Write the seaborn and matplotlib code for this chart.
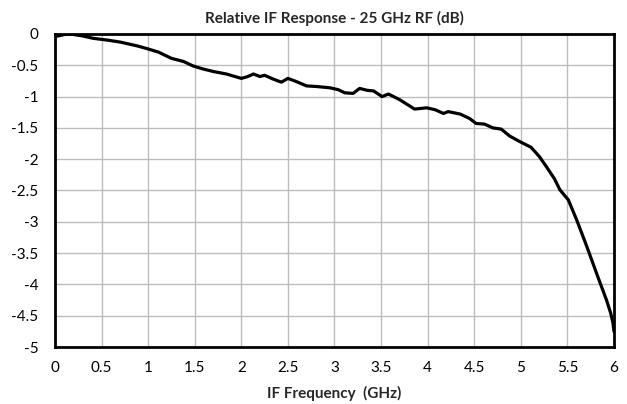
import pandas as pd
import matplotlib.pyplot as plt
import seaborn as sns

sns.set_style("whitegrid")
plt.rcParams['font.family'] = ['Lato', 'DejaVu Sans']

# IF response
freq_ghz = [0.0, 0.04, 0.1, 0.16, 0.29, 0.41, 0.57, 0.70, 0.88, 1.0, 1.11, 1.25,
            1.38, 1.48, 1.59, 1.70, 1.84, 2.0, 2.07, 2.13, 2.2, 2.25, 2.34, 2.43,
            2.50, 2.59, 2.70, 2.81, 2.95, 3.04, 3.11, 3.2, 3.27, 3.35, 3.42, 3.51,
            3.58, 3.70, 3.86, 3.99, 4.08, 4.17, 4.22, 4.35, 4.45, 4.52, 4.61, 4.70,
            4.79, 4.88, 4.99, 5.11, 5.2, 5.27, 5.36, 5.42, 5.51, 5.6, 5.71, 5.82,
            5.92, 5.965, 5.99, 6.0]
response_db = [-0.04, -0.03, -0.01, 0.0, -0.03, -0.07, -0.10, -0.13, -0.19, -0.24, -0.29, -0.39,
               -0.44, -0.51, -0.56, -0.60, -0.64, -0.71, -0.68, -0.64, -0.68, -0.66, -0.72, -0.77,
               -0.71, -0.76, -0.83, -0.84, -0.86, -0.89, -0.94, -0.95, -0.87, -0.90, -0.91, -1.0,
               -0.96, -1.05, -1.20, -1.18, -1.21, -1.27, -1.24, -1.28, -1.35, -1.43, -1.44, -1.50,
               -1.52, -1.63, -1.72, -1.81, -1.96, -2.11, -2.31, -2.49, -2.65, -2.97, -3.40, -3.85,
               -4.25, -4.46, -4.62, -4.75]

df = pd.DataFrame({'freq': freq_ghz, 'resp': response_db})

fig = plt.figure(figsize=(6.27, 4.04), dpi=100)
ax = fig.add_axes([0.0877, 0.141, 0.8915, 0.775])
sns.lineplot(data=df, x='freq', y='resp', color='black', linewidth=2.3, ax=ax)

ax.set_xlim(0, 6)
ax.set_ylim(-5, 0)
ax.set_xticks([i * 0.5 for i in range(13)])
ax.set_yticks([-i * 0.5 for i in range(11)])
ax.set_xticklabels(['0', '0.5', '1', '1.5', '2', '2.5', '3', '3.5', '4', '4.5', '5', '5.5', '6'])
ax.set_yticklabels(['0', '-0.5', '-1', '-1.5', '-2', '-2.5', '-3', '-3.5', '-4', '-4.5', '-5'])
ax.tick_params(axis='both', length=0, labelsize=11, colors='black')
ax.tick_params(axis='y', pad=12)
ax.tick_params(axis='x', pad=10)
ax.grid(True, color='#bdbdbd', linewidth=1)
for s in ax.spines.values():
    s.set_edgecolor('black')
    s.set_linewidth(2)

ax.set_title('Relative IF Response - 25 GHz RF (dB)', fontsize=11, fontweight='bold', pad=8)
ax.set_xlabel('IF Frequency  (GHz)', fontsize=11, fontweight='bold', labelpad=8)
ax.set_ylabel('')

fig.savefig('out.png', dpi=100)
